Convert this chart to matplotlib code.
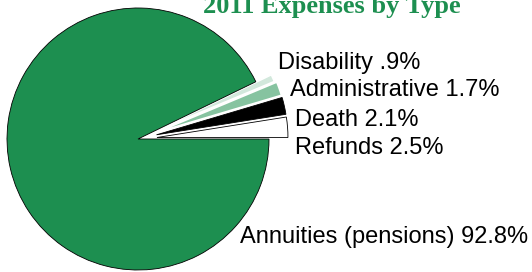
import matplotlib.pyplot as plt

# datos
categorias = ['Refunds', 'Death', 'Administrative', 'Disability', 'Annuities (pensions)']
porcentajes = [2.5, 2.1, 1.7, 0.9, 92.8]
etiquetas = ['Refunds 2.5%', 'Death 2.1%', 'Administrative 1.7%', 'Disability .9%',
             'Annuities (pensions) 92.8%']

colores = ['white', 'black', '#86c3a0', '#d2e8dc', '#1d8f50']
verde = '#1d8f50'

fig = plt.figure(figsize=(5.32, 2.72), dpi=100)
ax = fig.add_axes([0, 0, 1, 1])

# explode va en unidades de datos (pixeles aqui)
wedges, _ = ax.pie(porcentajes, colors=colores, startangle=0, counterclock=True,
                   explode=[19, 19, 19, 17, 0],
                   center=(138, 133), radius=131,
                   wedgeprops=dict(edgecolor='black', linewidth=0.6))
for w in wedges[2:4]:
    w.set_edgecolor('white')
    w.set_linewidth(1.2)

ax.set_xlim(0, 532)
ax.set_ylim(0, 272)
ax.set_aspect('equal')
ax.axis('off')

# posiciones de las etiquetas (pixeles)
pos = {'Disability .9%': (278, 63), 'Administrative 1.7%': (290, 90),
       'Death 2.1%': (295, 120), 'Refunds 2.5%': (295, 148),
       'Annuities (pensions) 92.8%': (240, 237)}
for txt in etiquetas:
    x, y = pos[txt]
    ax.text(x, 272 - y, txt, fontsize=17, family='Liberation Sans',
            ha='left', va='center')

ax.text(332, 272 - 13, '2011 Expenses by Type', fontsize=19, family='Liberation Serif',
        fontweight='bold', color=verde, ha='center', va='baseline')

fig.savefig('out.png', dpi=100)
